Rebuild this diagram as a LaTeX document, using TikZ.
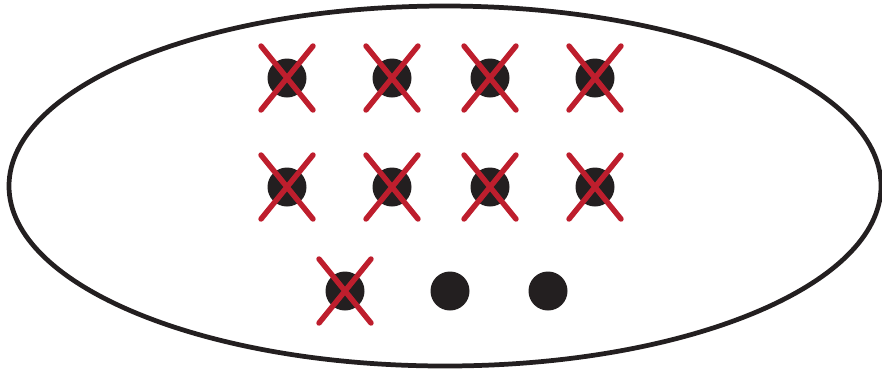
\documentclass[tikz,border=0pt]{standalone}
\usetikzlibrary{calc}
\definecolor{inkblack}{RGB}{35,31,32}
\definecolor{crossred}{RGB}{190,30,45}

\begin{document}
\begin{tikzpicture}[
  x=0.02cm, y=-0.02cm,
  dot/.style={circle, fill=inkblack, inner sep=0pt, minimum size=0.78cm},
  crossout/.style={draw=crossred, line width=3.1pt, line cap=round},
  setline/.style={draw=inkblack, line width=2.7pt}
]
\useasboundingbox (0,0) rectangle (882,370);
% the set
\draw[setline] (445,186) ellipse [x radius=436, y radius=180];
% elements
\foreach \name/\px/\py in {a1/287/78, a2/392/78, a3/490/78, a4/595/78,
                           b1/287/187, b2/392/187, b3/490/187, b4/595/187,
                           c1/345/291, c2/450/291, c3/548/291}
  \node[dot] (\name) at (\px,\py) {};
% struck-out elements
\foreach \name in {a1,a2,a3,a4,b1,b2,b3,b4,c1} {
  \draw[crossout] ($(\name)+(-26,-32)$) -- ($(\name)+(26,32)$);
  \draw[crossout] ($(\name)+(26,-32)$) -- ($(\name)+(-26,32)$);
}
\end{tikzpicture}
\end{document}
